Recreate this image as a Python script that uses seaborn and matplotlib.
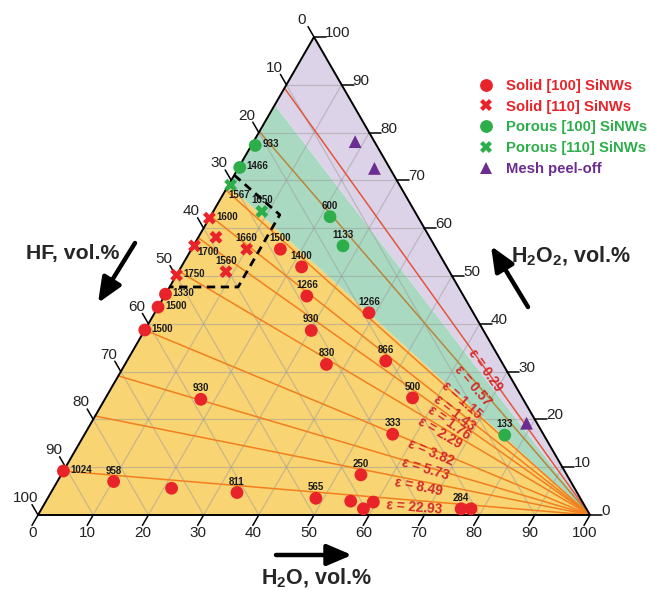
"""
Ternary HF / H2O2 / H2O composition diagram for SiNW etching,
with constant-epsilon lines and regime shading.
"""

import numpy as np
import pandas as pd
import matplotlib
matplotlib.use("Agg")
import matplotlib.pyplot as plt
import seaborn as sns

# ==============================================================================
# DATA (vol.%): each point is (H2O, H2O2); HF makes up the rest
# ==============================================================================
SOLID100_H2O = [16.1, 21.8, 25.8, 0.0, 0.0, 0.0, 17.4, 0.0, 10.2, 21.4, 33.7,
                38.8, 30.2, 36.5, 46.9, 55.6, 55.8, 54.3, 48.6, 55.2, 58.3, 59.4, 76.0, 77.8]
SOLID100_H2O2 = [55.6, 51.9, 45.8, 46.2, 43.5, 38.7, 24.2, 9.2, 7.0, 5.6, 4.7,
                 42.3, 38.6, 31.5, 32.2, 24.5, 16.9, 8.4, 3.5, 2.9, 1.3, 2.7, 1.3, 1.3]
SOLID100_LABELS = ["1500", "1400", "1266", "1330", "1500", "1500", "930", "1024", "958", "", "811",
                   "1266", "930", "830", "866", "500", "333", "250", "565", "", "", "", "284", ""]

SOLID110_H2O = [0.0, 3.2, 0.2, 10.0, 8.6, 0.0]
SOLID110_H2O2 = [62.1, 58.1, 56.3, 55.6, 50.9, 50.2]
SOLID110_LABELS = ["1600", "", "1700", "1660", "1560", "1750"]

POROUS100_H2O = [0.7, 0.2, 21.7, 27.1, 76.2]
POROUS100_H2O2 = [77.3, 72.7, 62.4, 56.3, 16.7]
POROUS100_LABELS = ["933", "1466", "600", "1133", "133"]

POROUS110_H2O = [0.4, 8.8]
POROUS110_H2O2 = [69.0, 63.5]
POROUS110_LABELS = ["1567", "1650"]

MESH_H2O = [18.4, 24.7, 78.9]
MESH_H2O2 = [78.1, 72.5, 19.2]
MESH_LABELS = ["", "", ""]

# constant-epsilon lines: value and HF vol.% where the line meets the HF-H2O2 side
EPS_VALUES = ["0.29", "0.57", "1.15", "1.43", "1.76", "2.29", "3.82", "5.73", "8.49", "22.93"]
EPS_HF_LEFT = [10.7, 19.8, 32.0, 37.5, 42.0, 49.0, 61.3, 70.9, 79.3, 90.8]

# regime borders (HF vol.% on the HF-H2O2 side, all meet the H2O corner)
YELLOW_GREEN_HF = 31.0
GREEN_PURPLE_HF = 14.2

# dashed box (H2O, H2O2)
BOX_H2O = [0.0, 12.4, 12.4, 0.0]
BOX_H2O2 = [71.1, 62.8, 47.7, 47.7]

GROUPS = ["Solid [100] SiNWs", "Solid [110] SiNWs", "Porous [100] SiNWs",
          "Porous [110] SiNWs", "Mesh peel-off"]

# ==============================================================================
# STYLE
# ==============================================================================
RED = "#E8232A"
GREEN = "#2DAE4A"
PURPLE = "#6B2D90"
PALETTE = dict(zip(GROUPS, [RED, RED, GREEN, GREEN, PURPLE]))
MARKERS = dict(zip(GROUPS, ["o", "X", "o", "X", "^"]))
EPS_COLORS = ["#E2563A", "#B8863A"] + ["#F27F1E"] * 8
# where each epsilon label sits (image pixels)
EPS_LABEL_PX = [(485, 370), (473, 386), (462, 400), (455, 413), (449, 423),
                (440, 433), (431, 453), (425, 469), (419, 487), (414, 507)]
LABEL_NUDGE = {"1567": (-2, -10, "left"), "1700": (3, -6, "left")}

SQ3 = np.sqrt(3) / 2
PX = 552.0  # pixels per unit side length


def tern(h2o, h2o2):
    """(H2O, H2O2) in vol.% -> cartesian, side length 1, HF corner at origin."""
    a = np.asarray(h2o, dtype=float) / 100
    b = np.asarray(h2o2, dtype=float) / 100
    return a + b / 2, b * SQ3


def px(X, Y):
    """Image pixel position -> data coordinates."""
    return (X - 38) / PX, (515 - Y) / PX


def build_frame():
    parts = [
        (GROUPS[0], SOLID100_H2O, SOLID100_H2O2, SOLID100_LABELS),
        (GROUPS[1], SOLID110_H2O, SOLID110_H2O2, SOLID110_LABELS),
        (GROUPS[2], POROUS100_H2O, POROUS100_H2O2, POROUS100_LABELS),
        (GROUPS[3], POROUS110_H2O, POROUS110_H2O2, POROUS110_LABELS),
        (GROUPS[4], MESH_H2O, MESH_H2O2, MESH_LABELS),
    ]
    frames = []
    for name, h2o, h2o2, labels in parts:
        d = pd.DataFrame({"group": name, "h2o": h2o, "h2o2": h2o2, "label": labels})
        frames.append(d)
    df = pd.concat(frames, ignore_index=True)
    df["hf"] = 100 - df["h2o"] - df["h2o2"]
    df["x"], df["y"] = tern(df["h2o"], df["h2o2"])
    return df


sns.set_theme(style="white")
plt.rcParams["font.family"] = ["Liberation Sans", "DejaVu Sans"]
plt.rcParams["mathtext.fontset"] = "custom"
plt.rcParams["mathtext.rm"] = "Liberation Sans"
plt.rcParams["mathtext.bf"] = "Liberation Sans:bold"

fig = plt.figure(figsize=(6.5, 5.91), dpi=100)
ax = fig.add_axes([0, 0, 1, 1])
ax.set_xlim(-38 / PX, (650 - 38) / PX)
ax.set_ylim((515 - 591) / PX, 515 / PX)
ax.axis("off")

# regime shading
for lo, hi, col in [(0, 100 - YELLOW_GREEN_HF, "#F9D473"),
                    (100 - YELLOW_GREEN_HF, 100 - GREEN_PURPLE_HF, "#A9DAC1"),
                    (100 - GREEN_PURPLE_HF, 100, "#DDD3E8")]:
    x, y = tern([0, 100, 0], [lo, 0, hi])
    ax.fill(x, y, color=col, lw=0, zorder=0)

# grid every 10 %
for k in range(10, 100, 10):
    for h2o, h2o2 in [([0, 100 - k], [k, k]), ([k, k], [0, 100 - k]), ([0, 100 - k], [100 - k, 0])]:
        x, y = tern(h2o, h2o2)
        ax.plot(x, y, color="#9A9A9A", lw=0.9, alpha=0.5, zorder=1)

# constant epsilon lines and their labels
for val, hf, col, (lx, ly) in zip(EPS_VALUES, EPS_HF_LEFT, EPS_COLORS, EPS_LABEL_PX):
    x, y = tern([0, 100], [100 - hf, 0])
    ax.plot(x, y, color=col, lw=1.1, zorder=2)
    angle = np.degrees(np.arctan2(y[1] - y[0], x[1] - x[0]))
    ax.text(*px(lx, ly), f"ε = {val}", rotation=angle, rotation_mode="anchor",
            ha="center", va="center", fontsize=9.8, fontweight="bold",
            color="#D42A2A", zorder=3)

# triangle frame and dashed box
x, y = tern([0, 100, 0, 0], [0, 0, 100, 0])
ax.plot(x, y, color="black", lw=1.4, zorder=4, solid_joinstyle="miter")
x, y = tern(BOX_H2O, BOX_H2O2)
ax.plot(x, y, color="black", lw=2.0, dashes=(3, 2), zorder=4)

# ticks and tick labels
T = 12 / PX
for k in range(0, 101, 10):
    x0, y0 = tern(k, 0)
    ax.plot([x0, x0 - 0.5 * T], [y0, y0 - SQ3 * T], color="black", lw=1.1, zorder=4)
    ax.text(x0 - 5.5 / PX, y0 - 18 / PX, str(k), ha="center", va="center", fontsize=11, color="#222222")
    x0, y0 = tern(100 - k, k)
    ax.plot([x0, x0 + T], [y0, y0], color="black", lw=1.1, zorder=4)
    ax.text(x0 + 11 / PX, y0 + 4 / PX, str(k), ha="left", va="center", fontsize=11, color="#222222")
    x0, y0 = tern(0, 100 - k)
    ax.plot([x0, x0 - 0.5 * T], [y0, y0 + SQ3 * T], color="black", lw=1.1, zorder=4)
    ax.text(x0 - 12 / PX, y0 + 17 / PX, str(k), ha="center", va="center", fontsize=11, color="#222222")

# data points
df = build_frame()
sns.scatterplot(data=df, x="x", y="y", hue="group", style="group",
                hue_order=GROUPS, style_order=GROUPS, palette=PALETTE,
                markers=MARKERS, s=85, linewidth=0, zorder=5, ax=ax)

for _, r in df.iterrows():
    if not r["label"]:
        continue
    if r["label"] in LABEL_NUDGE:
        dx, dy, ha = LABEL_NUDGE[r["label"]]
    elif r["h2o"] < 2:
        dx, dy, ha = 7, 1, "left"
    else:
        dx, dy, ha = 0, 11, "center"
    ax.annotate(r["label"], (r["x"], r["y"]), xytext=(dx, dy), textcoords="offset pixels",
                ha=ha, va="center", fontsize=7, fontweight="bold", color="#1A1A1A", zorder=6)

# legend
handles, labels = ax.get_legend_handles_labels()
ax.legend(handles, labels, loc="upper left", bbox_to_anchor=(479 / 650, 1 - 79 / 591),
          frameon=False, prop={"weight": "bold", "size": 10.7},
          labelcolor=[PALETTE[g] for g in GROUPS], handlelength=1.0,
          handletextpad=0.85, labelspacing=0.45, borderpad=0, borderaxespad=0)

# axis titles with arrows
arrow = dict(arrowstyle="-|>,head_length=0.75,head_width=0.32", lw=3.2, color="black",
             mutation_scale=20, shrinkA=0, shrinkB=0)
ax.annotate("", xy=px(98, 303), xytext=px(135, 243), arrowprops=arrow)
ax.annotate("", xy=px(491, 246), xytext=px(528, 307), arrowprops=arrow)
ax.annotate("", xy=px(352, 555), xytext=px(276, 555), arrowprops=arrow)
ax.text(*px(73, 254), "HF, vol.%", ha="center", va="center", fontsize=15.3, fontweight="bold")
ax.text(*px(571, 256), r"H$_\mathbf{2}$O$_\mathbf{2}$, vol.%", ha="center", va="center",
        fontsize=15.5, fontweight="bold")
ax.text(*px(316, 578), r"H$_\mathbf{2}$O, vol.%", ha="center", va="center",
        fontsize=15.5, fontweight="bold")

fig.savefig("out.png", dpi=100)
plt.close(fig)
